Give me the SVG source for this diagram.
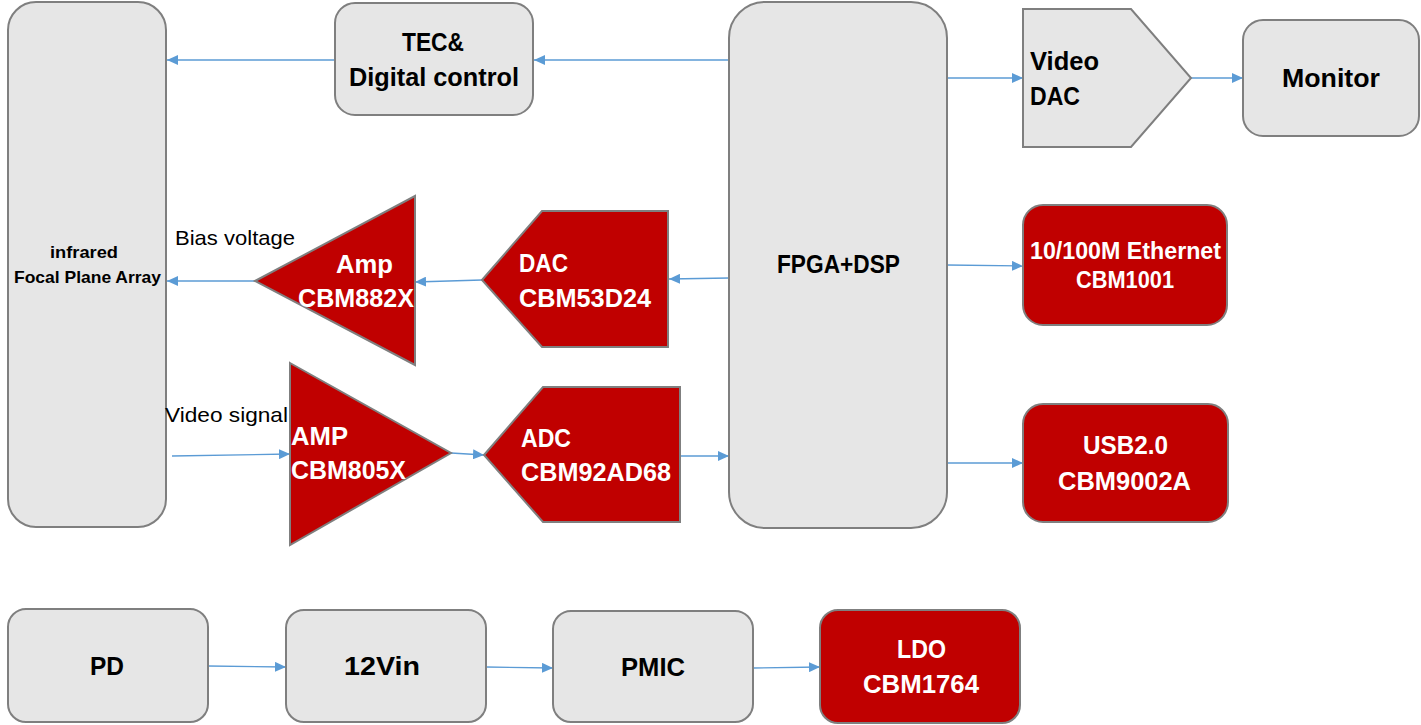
<svg xmlns="http://www.w3.org/2000/svg" width="1421" height="725" viewBox="0 0 1421 725">
<style>
.g{fill:#e6e6e6;stroke:#7f7f7f;stroke-width:2}
.r{fill:#c00000;stroke:#7f7f7f;stroke-width:2}
.t{font-family:"Liberation Sans",Arial,sans-serif;font-weight:bold;font-size:26px;fill:#000}
.w{font-family:"Liberation Sans",Arial,sans-serif;font-weight:bold;font-size:26px;fill:#fff}
.s{font-family:"Liberation Sans",Arial,sans-serif;font-weight:bold;font-size:17px;fill:#000}
.n{font-family:"Liberation Sans",Arial,sans-serif;font-size:21px;fill:#000}
.c{fill:none;stroke:#5b9bd5;stroke-width:1.3;marker-end:url(#ah)}
</style>
<defs>
<marker id="ah" markerUnits="userSpaceOnUse" markerWidth="11" markerHeight="10" refX="11" refY="5" orient="auto">
<path d="M0,0 L11,5 L0,10 z" fill="#5b9bd5"/>
</marker>
</defs>
<rect width="1421" height="725" fill="#fff"/>
<g id="connectors">
<line class="c" x1="335" y1="60" x2="167" y2="60"/>
<line class="c" x1="729" y1="60" x2="534" y2="60"/>
<line class="c" x1="947" y1="78" x2="1023" y2="78"/>
<line class="c" x1="1191" y1="78" x2="1243" y2="78"/>
<line class="c" x1="947" y1="265" x2="1023" y2="266"/>
<line class="c" x1="947" y1="463" x2="1023" y2="463"/>
<line class="c" x1="729" y1="278" x2="669" y2="279"/>
<line class="c" x1="482" y1="280" x2="415" y2="282"/>
<line class="c" x1="255" y1="281" x2="167" y2="281"/>
<line class="c" x1="172" y1="456" x2="290" y2="454"/>
<line class="c" x1="451" y1="453" x2="484" y2="455"/>
<line class="c" x1="680" y1="456" x2="729" y2="456"/>
<line class="c" x1="208" y1="666" x2="286" y2="667"/>
<line class="c" x1="486" y1="667" x2="553" y2="668"/>
<line class="c" x1="753" y1="668" x2="820" y2="667"/>
</g>
<g id="fpa">
<rect class="g" x="8" y="2" width="158" height="525" rx="28" ry="28"/>
<text class="s" x="50" y="258" textLength="68" lengthAdjust="spacingAndGlyphs">infrared</text>
<text class="s" x="14" y="283" textLength="147" lengthAdjust="spacingAndGlyphs">Focal Plane Array</text>
</g>
<g id="tec">
<rect class="g" x="335" y="3" width="198" height="112" rx="20" ry="20"/>
<text class="t" x="402" y="51" textLength="62" lengthAdjust="spacingAndGlyphs">TEC&amp;</text>
<text class="t" x="349" y="86" textLength="170" lengthAdjust="spacingAndGlyphs">Digital control</text>
</g>
<g id="fpga">
<rect class="g" x="729" y="2" width="218" height="526" rx="36" ry="36"/>
<text class="t" x="777" y="273" textLength="123" lengthAdjust="spacingAndGlyphs">FPGA+DSP</text>
</g>
<g id="videodac">
<polygon class="g" points="1023,9 1131,9 1191,78 1131,147 1023,147"/>
<text class="t" x="1030" y="70" textLength="69" lengthAdjust="spacingAndGlyphs">Video</text>
<text class="t" x="1030" y="105" textLength="50" lengthAdjust="spacingAndGlyphs">DAC</text>
</g>
<g id="monitor">
<rect class="g" x="1243" y="20" width="176" height="116" rx="20" ry="20"/>
<text class="t" x="1282" y="87" textLength="98" lengthAdjust="spacingAndGlyphs">Monitor</text>
</g>
<g id="ethernet">
<rect class="r" x="1023" y="205" width="204" height="120" rx="20" ry="20"/>
<text class="w" x="1030" y="259" textLength="191" lengthAdjust="spacingAndGlyphs" style="font-size:24px">10/100M Ethernet</text>
<text class="w" x="1076" y="288" textLength="98" lengthAdjust="spacingAndGlyphs" style="font-size:24px">CBM1001</text>
</g>
<g id="usb">
<rect class="r" x="1023" y="404" width="205" height="118" rx="20" ry="20"/>
<text class="w" x="1083" y="454" textLength="85" lengthAdjust="spacingAndGlyphs">USB2.0</text>
<text class="w" x="1058" y="490" textLength="133" lengthAdjust="spacingAndGlyphs">CBM9002A</text>
</g>
<g id="dac">
<polygon class="r" points="482,280 542,211 668,211 668,347 542,347"/>
<text class="w" x="519" y="272" textLength="49" lengthAdjust="spacingAndGlyphs">DAC</text>
<text class="w" x="519" y="307" textLength="132" lengthAdjust="spacingAndGlyphs">CBM53D24</text>
</g>
<g id="amp-bias">
<polygon class="r" points="255,281 415,196 415,365"/>
<text class="w" x="336" y="273" textLength="57" lengthAdjust="spacingAndGlyphs">Amp</text>
<text class="w" x="298" y="307" textLength="116" lengthAdjust="spacingAndGlyphs">CBM882X</text>
</g>
<g id="amp-video">
<polygon class="r" points="290,363 451,453 290,545"/>
<text class="w" x="291" y="445" textLength="57" lengthAdjust="spacingAndGlyphs">AMP</text>
<text class="w" x="291" y="479" textLength="115" lengthAdjust="spacingAndGlyphs">CBM805X</text>
</g>
<g id="adc">
<polygon class="r" points="484,455 543,387 680,387 680,522 543,522"/>
<text class="w" x="521" y="447" textLength="50" lengthAdjust="spacingAndGlyphs">ADC</text>
<text class="w" x="521" y="481" textLength="150" lengthAdjust="spacingAndGlyphs">CBM92AD68</text>
</g>
<g id="labels">
<text class="n" x="175" y="245" textLength="120" lengthAdjust="spacingAndGlyphs">Bias voltage</text>
<text class="n" x="165" y="422" textLength="123" lengthAdjust="spacingAndGlyphs">Video signal</text>
</g>
<g id="pd">
<rect class="g" x="8" y="609" width="200" height="113" rx="18" ry="18"/>
<text class="t" x="90" y="675" textLength="34" lengthAdjust="spacingAndGlyphs">PD</text>
</g>
<g id="v12">
<rect class="g" x="286" y="610" width="200" height="112" rx="18" ry="18"/>
<text class="t" x="344" y="675" textLength="76" lengthAdjust="spacingAndGlyphs">12Vin</text>
</g>
<g id="pmic">
<rect class="g" x="553" y="611" width="200" height="111" rx="18" ry="18"/>
<text class="t" x="621" y="676" textLength="64" lengthAdjust="spacingAndGlyphs">PMIC</text>
</g>
<g id="ldo">
<rect class="r" x="820" y="610" width="200" height="113" rx="18" ry="18"/>
<text class="w" x="897" y="658" textLength="49" lengthAdjust="spacingAndGlyphs">LDO</text>
<text class="w" x="863" y="693" textLength="116" lengthAdjust="spacingAndGlyphs">CBM1764</text>
</g>
</svg>
